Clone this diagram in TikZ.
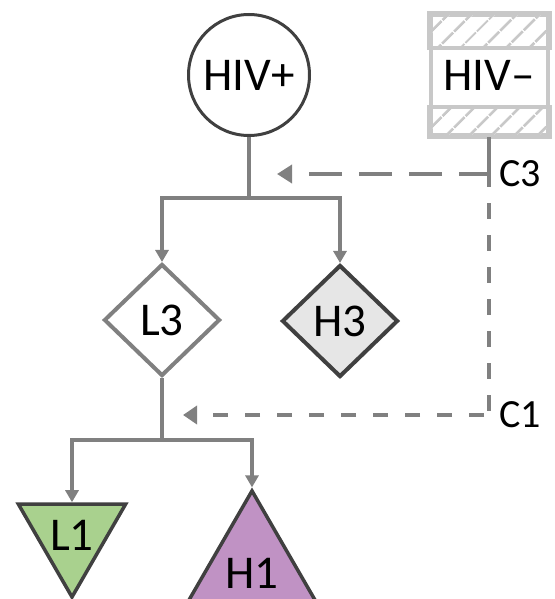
\documentclass[tikz,border=0pt]{standalone}
\usepackage{fontspec}
\setmainfont{Carlito}
\usetikzlibrary{arrows.meta,positioning,calc,shapes.geometric,patterns.meta}
\definecolor{lnk}{HTML}{808080}
\definecolor{dark}{HTML}{404040}
\definecolor{pale}{HTML}{C8C8C8}
\definecolor{hfill}{HTML}{E6E6E6}
\definecolor{lgreen}{HTML}{A9D18E}
\definecolor{lpurple}{HTML}{C092C4}
\tikzset{
  posnode/.style={circle, draw=dark, line width=3pt, minimum size=121pt, inner sep=0pt,
                  font=\fontsize{47}{50}\selectfont},
  negbox/.style={rectangle, draw=pale, line width=4pt, minimum width=117pt,
                 minimum height=120pt, inner sep=0pt, font=\fontsize{47}{50}\selectfont},
  hatchband/.style={draw=pale, line width=4pt, pattern color=pale,
                    pattern={Lines[angle=45, distance=17pt, line width=3pt]}},
  lowgem/.style={diamond, aspect=1, draw=lnk, line width=4pt, fill=white, minimum width=116pt,
                 minimum height=112pt, inner sep=0pt, font=\fontsize{47}{50}\selectfont},
  highgem/.style={lowgem, draw=dark, fill=hfill},
  lowtri/.style={regular polygon, regular polygon sides=3, shape border rotate=180, draw=dark,
                 line width=3.5pt, fill=lgreen, minimum size=124pt, inner sep=0pt,
                 font=\fontsize{47}{50}\selectfont},
  hightri/.style={lowtri, shape border rotate=0, fill=lpurple, text height=44pt},
  link/.style={draw=lnk, line width=3.5pt},
  arr/.style={link, -{Triangle[length=12pt, width=13pt]}},
  dlink/.style={link, dash pattern=on 16pt off 16pt, dash phase=16pt},
  darr/.style={link, dash pattern=on 33pt off 17pt, dash phase=3pt,
               -{Triangle[length=15pt, width=18pt]}},
  sdarr/.style={link, dash pattern=on 15pt off 17pt, dash phase=27pt,
                -{Triangle[length=14pt, width=18pt]}},
  clbl/.style={inner sep=0pt, font=\fontsize{40}{44}\selectfont}}
\begin{document}
\begin{tikzpicture}[x=1pt, y=-1pt]
    \useasboundingbox (0,0) rectangle (554,599);
    % status nodes
    \node[posnode] (hivp) at (249,75) {HIV+};
    \node[negbox] (hivn) at (489,75) {HIV–};
    \draw[hatchband] (hivn.north west) rectangle ($(hivn.north east)+(0,35)$);
    \draw[hatchband] ($(hivn.south west)-(0,30)$) rectangle (hivn.south east);
    % level 3
    \node[lowgem] (l3) at (162,320) {L3};
    \node[highgem] (h3) at (340,321) {H3};
    % level 1
    \node[lowtri] (l1) at (72,535) {L1};
    \node[hightri] (h1) at (252,566) {H1};
    % branches
    \coordinate (j3) at (249,198);
    \coordinate (j1) at (162,440);
    \draw[link] (hivp) -- (j3);
    \draw[arr] (j3) -| (l3);
    \draw[arr] (j3) -| (h3);
    \draw[link] (l3) -- (j1);
    \draw[arr] (j1) -| (l1);
    \draw[arr] (j1) -| (h1);
    % comparisons
    \coordinate (cs) at (489,187);
    \coordinate (c3) at (489,174);
    \coordinate (c1) at (489,415);
    \coordinate (t3) at (277,174);
    \coordinate (t1) at (183,415);
    \draw[link] (hivn.south) -- (cs);
    \draw[dlink] (cs) -- (c1);
    \draw[darr] (c3) -- (t3);
    \draw[sdarr] (c1) -- (t1);
    \node[clbl, right=10pt of c3] (lc3) {C3};
    \node[clbl, right=10pt of c1] (lc1) {C1};
\end{tikzpicture}
\end{document}
